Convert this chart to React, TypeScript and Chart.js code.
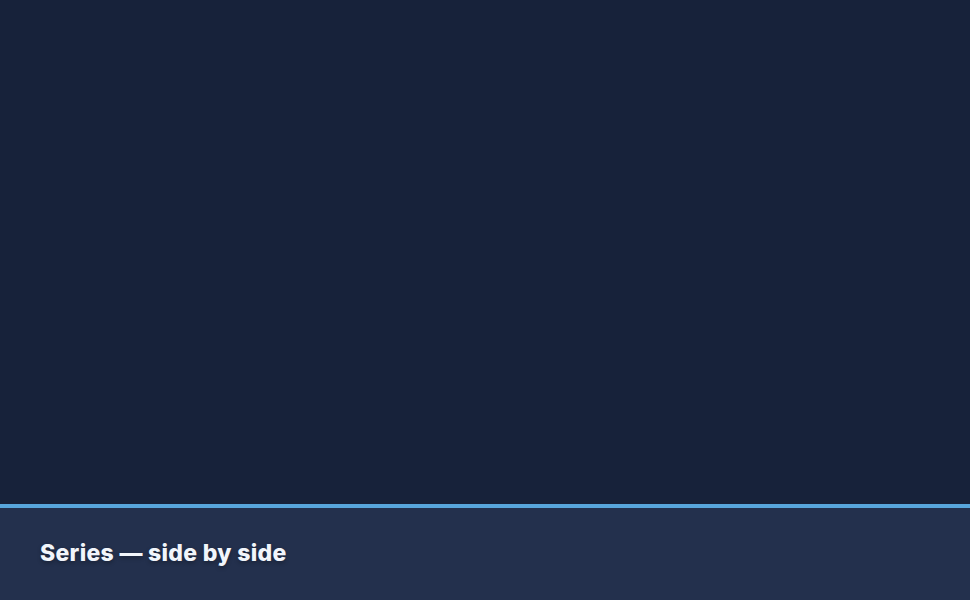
import { useEffect, useRef } from "react";
import { Chart, registerables } from "chart.js";

Chart.register(...registerables);

// The reference plot area is empty: no categories and no values are drawn.
const CATEGORIES: string[] = [];
const SERIES_A: number[] = [];
const SERIES_B: number[] = [];

const CAPTION = "Series — side by side";

const BG = "#17223a";
const FOOTER_BG = "#23304d";
const ACCENT = "#58a6dc";

export default function App() {
  const canvasRef = useRef<HTMLCanvasElement>(null);
  const chartRef = useRef<Chart | null>(null);

  useEffect(() => {
    document.body.style.margin = "0";
    document.body.style.background = BG;
    if (!canvasRef.current) return;
    const ctx = canvasRef.current.getContext("2d");
    if (!ctx) return;

    chartRef.current?.destroy();
    chartRef.current = new Chart(ctx, {
      type: "bar",
      data: {
        labels: CATEGORIES,
        datasets: [
          { label: "A", data: SERIES_A, backgroundColor: "#58a6dc" },
          { label: "B", data: SERIES_B, backgroundColor: "#f2a65a" },
        ],
      },
      options: {
        animation: false,
        responsive: true,
        maintainAspectRatio: false,
        plugins: {
          legend: { display: false },
          tooltip: { enabled: false },
        },
        scales: {
          x: { display: false },
          y: { display: false },
        },
      },
    });
    return () => chartRef.current?.destroy();
  }, []);

  return (
    <div style={{ width: 970, height: 600, background: BG, fontFamily: "Inter, sans-serif", overflow: "hidden" }}>
      <div style={{ position: "relative", height: 504 }}>
        <canvas ref={canvasRef} />
      </div>
      <div
        style={{
          height: 96,
          borderTop: `4px solid ${ACCENT}`,
          background: FOOTER_BG,
          display: "flex",
          alignItems: "center",
          paddingLeft: 40,
          paddingBottom: 2,
          boxSizing: "border-box",
        }}
      >
        <span
          style={{
            color: "#f1f5fb",
            fontWeight: 800,
            fontSize: 23,
            letterSpacing: 0.3,
            textShadow: "0 2px 4px rgba(0,0,0,0.3)",
          }}
        >
          {CAPTION}
        </span>
      </div>
    </div>
  );
}
